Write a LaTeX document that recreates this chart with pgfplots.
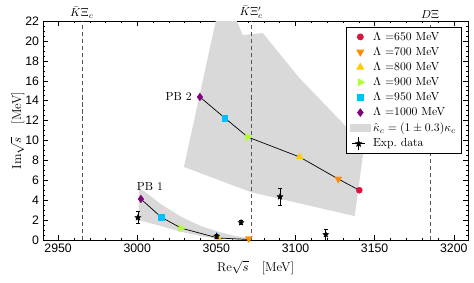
\documentclass[border=0pt]{standalone}
\usepackage{fontspec}
\usepackage{pgfplots}
\pgfplotsset{compat=1.18}
\newfontfamily\tickfont{Liberation Sans}
\definecolor{c650}{RGB}{220,20,60}
\definecolor{c700}{RGB}{255,140,0}
\definecolor{c800}{RGB}{255,205,0}
\definecolor{c900}{RGB}{173,255,47}
\definecolor{c950}{RGB}{0,191,255}
\definecolor{c1000}{RGB}{128,0,128}
\definecolor{band}{RGB}{217,217,217}
\definecolor{thr}{RGB}{85,85,85}
\pgfdeclareplotmark{fstar}{%
  \pgfpathmoveto{\pgfpointpolar{90}{\pgfplotmarksize}}%
  \pgfpathlineto{\pgfpointpolar{126}{0.45\pgfplotmarksize}}%
  \pgfpathlineto{\pgfpointpolar{162}{\pgfplotmarksize}}%
  \pgfpathlineto{\pgfpointpolar{198}{0.45\pgfplotmarksize}}%
  \pgfpathlineto{\pgfpointpolar{234}{\pgfplotmarksize}}%
  \pgfpathlineto{\pgfpointpolar{270}{0.45\pgfplotmarksize}}%
  \pgfpathlineto{\pgfpointpolar{306}{\pgfplotmarksize}}%
  \pgfpathlineto{\pgfpointpolar{342}{0.45\pgfplotmarksize}}%
  \pgfpathlineto{\pgfpointpolar{18}{\pgfplotmarksize}}%
  \pgfpathlineto{\pgfpointpolar{54}{0.45\pgfplotmarksize}}%
  \pgfpathclose\pgfusepathqfillstroke}
\begin{document}
\begin{tikzpicture}
\begin{axis}[
  scale only axis, width=363pt, height=187pt,
  xmin=2940.5, xmax=3209, ymin=0, ymax=22,
  xtick={2950,3000,...,3200}, ytick={0,2,...,22},
  minor x tick num=4, minor y tick num=3,
  tick align=inside, major tick length=4pt, minor tick length=2pt,
  tick style={black, line width=0.4pt},
  axis line style={line width=0.6pt},
  tick label style={font=\tickfont\fontsize{10.5}{12}\selectfont},
  /pgf/number format/assume math mode=true,
  /pgf/number format/1000 sep={},
  xlabel={Re$\sqrt{s}$\quad[MeV]}, ylabel={Im$\sqrt{s}$\quad[MeV]},
  label style={font=\fontsize{11}{13}\selectfont},
  ylabel style={yshift=-6pt},
  clip mode=individual,
  legend style={at={(0.986,0.973)}, anchor=north east, font=\fontsize{10}{12}\selectfont, draw=black, fill=white, row sep=0.6pt, line width=0.6pt},
  legend cell align=left,
]
% bands
\addplot[fill=band, draw=none, forget plot] coordinates {
 (3050.3,22.5) (3061.5,22.5) (3066.7,20.6) (3079.3,20.8) (3102.3,16.3) (3131,11.56) (3143,9.0) (3137.4,2.4) (3072,4.8) (3029.5,7.34)} -- cycle;
\addplot[fill=band, draw=none, forget plot] coordinates {
 (3001,5.3) (3015,3.6) (3027,2.4) (3040,1.4) (3052,0.8) (3062,0.4) (3072,0.15)
 (3072,0) (3052,0.1) (3040,0.4) (3027,0.85) (3015,1.4) (3001,2.0)} -- cycle;
% thresholds
\addplot[thr, dash pattern=on 3.5pt off 2.5pt, line width=0.6pt, forget plot] coordinates {(2965,0) (2965,22)};
\addplot[thr, dash pattern=on 3.5pt off 2.5pt, line width=0.6pt, forget plot] coordinates {(3072,0) (3072,22)};
\addplot[thr, dash pattern=on 3.5pt off 2.5pt, line width=0.6pt, forget plot] coordinates {(3185,0) (3185,22)};
% trajectories
\addplot[black, line width=0.6pt, forget plot] coordinates {(3039.6,14.37) (3055.3,12.26) (3069.8,10.35) (3102.6,8.34) (3127,6.13) (3140.3,5.0)};
\addplot[black, line width=0.6pt, forget plot] coordinates {(3002.3,4.12) (3015,2.31) (3027.6,1.2) (3051,0.2) (3070.5,0.05)};
% markers
\addplot[only marks, mark=*, mark size=2.6pt, c650, mark options={fill=c650, draw=c650}] coordinates {(3140.3,5.0)};
\addlegendentry{$\Lambda$ =650 MeV}
\addplot[only marks, mark=triangle*, mark size=3.4pt, c700, mark options={rotate=180, fill=c700, draw=c700}] coordinates {(3127,6.13) (3070.5,0.15)};
\addlegendentry{$\Lambda$ =700 MeV}
\addplot[only marks, mark=triangle*, mark size=3.4pt, c800, mark options={fill=c800, draw=c800}] coordinates {(3102.6,8.34) (3051,0.2)};
\addlegendentry{$\Lambda$ =800 MeV}
\addplot[only marks, mark=triangle*, mark size=3.4pt, c900, mark options={rotate=-90, fill=c900, draw=c900}] coordinates {(3069.8,10.35) (3027.6,1.2)};
\addlegendentry{$\Lambda$ =900 MeV}
\addplot[only marks, mark=square*, mark size=2.4pt, c950, mark options={fill=c950, draw=c950}] coordinates {(3055.3,12.26) (3015,2.31)};
\addlegendentry{$\Lambda$ =950 MeV}
\addplot[only marks, mark=diamond*, mark size=3.2pt, c1000, mark options={fill=c1000, draw=c1000}] coordinates {(3039.6,14.37) (3002.3,4.12)};
\addlegendentry{$\Lambda$ =1000 MeV}
\addlegendimage{legend image code/.code={\fill[band] (0cm,-0.11cm) rectangle (0.6cm,0.11cm);}}
\addlegendentry{$\hat\kappa_c=(1\pm0.3)\kappa_c$}
% experimental data
\addplot[only marks, mark=fstar, mark size=2.6pt, black, mark options={fill=black},
  error bars/.cd, y dir=both, y explicit, error bar style={black, line width=0.5pt}, error mark options={black, mark size=1.5pt, rotate=90},
  /pgfplots/legend image code/.code={\draw[black, line width=0.5pt] (0.05cm,0cm)--(0.45cm,0cm) (0.25cm,-0.2cm)--(0.25cm,0.2cm); \draw[fill=black] plot[only marks, mark=fstar, mark size=2.6pt] coordinates {(0.25cm,0cm)};}]
 coordinates {
 (3000.4,2.25) +- (0,0.6)
 (3050.2,0.4) +- (0,0.2)
 (3065.6,1.75) +- (0,0.2)
 (3090.2,4.35) +- (0,0.9)
 (3119.1,0.55) +- (0,0.55)
 };
\addlegendentry{Exp.\ data}
% labels
\node[above, inner sep=2pt] at (axis cs:2965,22) {$\bar{K}\Xi_c$};
\node[above, inner sep=2pt] at (axis cs:3072,22) {$\bar{K}\Xi_c'$};
\node[above, inner sep=2pt] at (axis cs:3185,22) {$D\Xi$};
\node[anchor=east, font=\fontsize{10}{12}\selectfont] at (axis cs:3037,14.45) {PB 2};
\node[font=\fontsize{10}{12}\selectfont] at (axis cs:3008,5.4) {PB 1};
\end{axis}
\path (-36.8pt,-35.9pt) rectangle (368.1pt,205pt);
\end{tikzpicture}
\end{document}
